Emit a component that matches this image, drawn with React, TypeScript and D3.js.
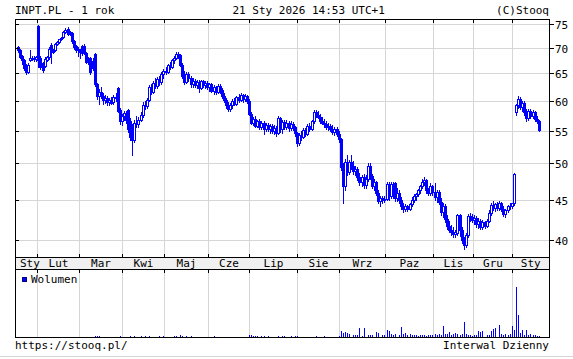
import React from 'react';
import * as d3 from 'd3';

type Candle = [number, number, number, number]; // open, high, low, close

const jan25: Candle[] = [
  [70.2,70.4,69.2,69.5],[69.6,69.8,68.0,68.2],[68.3,68.6,66.8,67.5],[67.6,67.8,65.6,66.0],
  [66.5,66.8,64.9,65.2],[65.3,66.9,65.1,66.6],[67.6,69.5,67.3,68.0],[67.8,68.3,67.5,68.0],
  [68.0,68.4,67.4,67.8],[67.7,68.3,67.3,68.1],
];
const feb25: Candle[] = [
  [74.5,74.7,66.2,67.5],[68.0,68.3,65.8,66.2],[67.0,67.2,65.3,65.6],[66.3,68.1,66.1,67.8],
  [67.6,68.3,67.3,68.1],[68.1,70.1,67.8,69.8],[70.6,70.9,67.0,69.2],[69.2,69.7,68.9,69.4],
  [69.5,70.9,69.3,70.7],[70.7,71.4,70.5,71.2],[71.2,71.9,71.0,71.7],[71.7,72.3,71.5,72.1],
  [72.2,73.4,72.0,73.2],[73.2,74.1,73.0,73.8],[74.0,74.4,72.6,72.8],[73.2,73.5,72.6,72.9],
  [73.0,73.3,71.0,71.3],[71.3,71.6,69.8,70.1],[70.3,70.6,69.1,69.6],[69.8,70.2,68.4,69.5],
];
const mar25: Candle[] = [
  [69.4,69.8,68.0,69.2],[70.3,70.5,68.6,68.9],[70.4,70.7,68.8,69.1],[69.0,69.2,66.9,67.2],
  [67.8,68.2,66.8,67.1],[68.0,68.2,64.9,65.2],[67.4,67.9,65.6,66.0],[68.7,69.0,62.6,63.0],
  [63.0,63.2,60.3,60.8],[60.8,62.0,59.5,61.6],[61.6,62.4,60.5,60.9],[60.9,61.3,59.5,60.2],
  [60.2,61.0,59.6,60.5],[60.5,60.9,59.3,59.8],[59.8,60.5,59.2,60.1],[60.1,60.6,59.4,59.6],
  [59.7,61.0,59.4,60.6],[60.6,61.3,60.0,60.4],[62.2,62.5,58.0,58.3],[58.4,58.7,56.0,56.5],
  [56.5,57.8,55.9,57.4],
];
const apr25: Candle[] = [
  [57.4,58.3,56.8,57.9],[57.9,58.2,56.3,56.8],[58.4,58.6,54.8,55.2],[56.5,57.0,53.5,54.0],
  [55.5,56.0,51.2,53.5],[53.5,56.8,53.2,56.3],[56.3,57.3,55.5,56.0],[56.0,57.2,55.6,56.8],
  [56.8,58.0,56.5,57.6],[57.6,59.8,57.2,59.3],[59.3,60.0,58.5,59.0],[59.0,60.5,58.8,60.2],
  [60.2,62.8,60.0,62.4],[62.4,63.0,61.2,61.6],[61.6,63.5,61.3,63.2],[63.2,64.0,62.3,62.6],
  [62.6,64.3,62.2,63.9],[63.9,64.5,62.8,63.3],[63.3,65.2,63.0,64.9],[64.9,65.8,64.1,65.5],
];
const may25: Candle[] = [
  [65.5,66.2,64.9,65.2],[65.2,66.8,65.0,66.5],[66.5,67.2,65.8,66.1],[66.1,67.8,65.9,67.5],
  [67.5,68.3,67.0,68.0],[68.0,69.2,67.8,68.8],[68.8,69.2,67.9,68.4],[68.5,68.8,66.3,66.6],
  [66.6,67.0,64.0,64.4],[64.4,65.5,63.0,63.4],[63.4,65.2,63.2,64.9],[64.9,65.3,63.6,64.0],
  [64.0,64.5,62.5,62.9],[62.9,64.0,62.5,63.6],[63.6,63.9,62.4,62.8],[62.8,63.8,62.2,63.4],
  [63.4,63.7,61.6,62.2],[62.2,63.8,62.0,63.5],[63.5,63.8,62.4,62.8],[62.8,63.5,62.3,63.2],
  [63.2,63.5,62.0,62.5],
];
const jun25: Candle[] = [
  [62.5,63.2,61.8,62.9],[62.9,63.1,61.5,61.8],[61.8,62.8,61.2,62.4],[62.4,62.7,61.2,61.6],
  [61.6,62.9,61.3,62.6],[62.6,62.9,61.4,61.9],[61.9,62.3,60.5,60.8],[60.8,61.3,59.8,60.1],
  [60.1,60.5,58.8,59.2],[59.2,59.7,58.3,58.6],[58.6,59.6,58.3,59.3],[59.3,60.3,58.8,60.0],
  [60.0,60.5,59.2,59.5],[59.5,60.9,59.3,60.6],[60.6,61.2,59.8,60.2],[60.2,61.3,60.0,61.0],
  [61.0,61.2,59.8,60.3],[60.3,61.1,60.0,60.8],[60.8,61.0,59.6,60.0],[60.0,60.3,57.5,57.8],
];
const jul25: Candle[] = [
  [57.8,58.0,56.0,56.3],[56.3,57.2,55.9,56.9],[56.9,57.3,55.5,55.8],[55.8,56.8,55.5,56.5],
  [56.5,56.9,55.2,55.6],[55.6,56.6,55.3,56.3],[56.3,56.5,54.5,55.2],[55.2,56.3,55.0,55.9],
  [55.9,56.2,54.9,55.3],[55.3,56.0,54.6,55.7],[55.7,56.1,54.6,55.0],[55.0,55.9,54.5,55.4],
  [55.4,55.7,54.2,54.6],[54.6,57.3,54.4,57.0],[57.0,57.2,54.8,55.2],[55.2,56.8,54.6,56.4],
  [56.4,56.8,55.3,55.6],[55.6,56.7,55.2,56.3],[56.3,56.6,55.0,55.4],[55.4,56.5,55.1,56.1],
  [56.1,56.4,55.1,55.5],[55.5,55.8,54.2,54.6],[54.6,54.8,52.6,53.0],
];
const aug25: Candle[] = [
  [53.0,54.6,52.7,54.3],[54.3,54.9,53.5,54.0],[54.0,55.4,53.8,55.1],[55.1,55.4,54.1,54.5],
  [54.5,56.0,54.3,55.7],[55.7,56.3,55.0,55.3],[55.3,56.8,55.1,56.5],[56.5,58.4,56.3,58.1],
  [58.1,58.4,57.2,57.6],[57.6,58.3,57.0,57.2],[57.2,57.8,56.3,56.6],[56.6,57.2,56.0,56.3],
  [56.3,56.9,55.6,56.0],[56.0,56.5,55.2,55.5],[55.5,56.2,55.1,55.8],[55.8,56.1,55.0,55.3],
  [55.3,55.9,54.5,54.8],[54.8,55.5,54.3,55.2],[55.2,55.5,54.2,54.5],[54.5,55.0,53.2,53.6],
];
const sep25: Candle[] = [
  [53.6,53.8,49.0,49.5],[49.5,50.0,44.6,46.8],[46.8,50.6,46.3,50.2],[50.2,51.3,48.3,48.8],
  [48.8,50.5,48.5,50.2],[50.2,51.2,49.2,49.6],[49.6,50.4,48.5,48.9],[48.9,49.6,48.3,49.2],
  [49.2,49.5,47.6,48.0],[48.0,48.6,47.0,47.4],[47.4,48.3,46.8,48.0],[48.0,48.4,46.6,47.0],
  [47.0,48.3,46.6,47.8],[47.8,50.0,47.5,49.6],[49.6,50.0,47.8,48.2],[48.2,48.5,46.5,46.8],
  [46.8,47.8,46.2,47.3],[47.3,47.5,45.6,45.9],[45.9,46.2,44.5,44.8],[44.8,45.5,44.2,45.2],
  [45.2,45.4,44.6,44.9],[44.9,45.4,44.7,45.1],
];
const oct25: Candle[] = [
  [45.1,47.3,44.9,47.1],[47.1,47.3,45.0,45.4],[45.4,47.3,45.2,47.1],[47.1,47.3,45.2,45.5],
  [47.2,47.4,44.8,45.2],[45.2,46.5,44.8,45.9],[45.9,46.2,44.5,44.9],[44.9,45.3,43.8,44.1],
  [44.1,44.6,43.4,43.8],[43.8,44.4,43.5,44.1],[44.1,44.3,43.5,43.8],[43.8,44.6,43.6,44.4],
  [44.4,45.3,44.2,45.0],[45.0,45.7,44.7,45.4],[45.4,45.9,45.0,45.7],[45.7,46.4,45.4,46.2],
  [46.2,47.0,45.9,46.8],[46.8,47.8,46.5,47.3],[47.3,48.0,47.0,47.6],[47.6,47.8,45.9,46.3],
  [46.3,46.6,45.6,45.9],[45.9,47.2,45.6,46.8],[46.8,47.0,45.6,46.0],
];
const nov25: Candle[] = [
  [46.0,47.2,44.9,45.3],[45.3,46.3,44.7,46.0],[46.0,46.2,44.4,44.7],[44.7,45.2,43.0,43.4],
  [43.4,44.6,42.8,44.2],[44.2,44.4,42.2,42.5],[42.5,43.0,41.3,41.7],[41.7,42.3,40.9,41.2],
  [41.2,41.8,40.6,41.0],[41.0,41.5,40.4,40.7],[40.7,41.2,40.3,40.9],[40.8,43.2,40.6,43.0],
  [43.0,43.2,40.5,41.2],[41.2,41.5,39.6,40.0],[40.0,40.3,39.0,39.4],[39.4,40.8,39.2,40.6],
  [40.6,43.2,40.4,42.9],[42.9,43.3,42.3,42.8],[42.8,43.1,42.1,42.4],
];
const dec25: Candle[] = [
  [42.4,43.0,41.9,42.7],[42.7,42.9,41.6,41.9],[41.9,42.6,41.4,42.3],[42.3,42.5,41.3,41.6],
  [41.6,42.4,41.3,42.1],[42.1,42.3,41.4,41.7],[41.7,42.5,41.5,42.3],[42.3,43.6,42.1,43.3],
  [43.3,44.6,43.0,44.3],[44.3,44.8,43.6,43.9],[43.9,44.6,43.5,44.4],[44.4,44.7,43.6,43.9],
  [43.9,44.8,43.7,44.5],[44.5,44.7,43.5,43.8],[43.8,44.1,42.9,43.2],[43.2,43.8,42.8,43.6],
  [43.6,44.3,43.4,44.1],[44.1,44.5,43.8,44.2],[44.2,44.6,43.9,44.5],
];
const jan26: Candle[] = [
  [44.5,48.6,44.3,48.5],[58.0,59.5,57.6,59.2],[59.2,60.8,58.8,60.3],[60.3,60.6,58.5,58.9],
  [58.9,60.0,58.2,59.6],[59.6,59.9,57.6,58.0],[58.0,58.6,56.5,57.0],[57.0,58.5,56.8,58.2],
  [58.2,58.5,57.0,57.3],[57.3,58.4,57.0,58.0],[58.0,58.2,56.6,56.9],[56.9,57.4,56.3,56.6],
  [56.6,56.8,54.9,55.1],
];

// volume (thousands of shares), one value per session
const volJan25 = [0,0,0,0,0,0,0,0,0,0];
const volFeb25 = [0,0,0,0,0,0,0,0,0,0,0,0,0,0,0,0,0,0,0,0];
const volMar25 = [0,0,0,0,0,0,0,4,3,2,0,0,0,0,0,0,0,0,0,3,0];
const volApr25 = [0,0,0,3,0,3,0,0,3,0,3,0,4,0,0,0,0,3,0,3];
const volMay25 = [0,0,0,0,4,3,0,5,3,0,3,0,3,0,0,0,0,0,0,0,0];
const volJun25 = [0,0,3,0,0,0,0,0,0,0,0,0,0,0,0,0,0,0,0,6];
const volJul25 = [5,3,2,3,0,2,3,0,2,0,0,0,0,2,0,2,2,0,0,2,0,2,2];
const volAug25 = [0,0,0,0,0,0,0,0,2,0,0,0,2,0,0,0,0,0,0,2];
const volSep25 = [18,12,15,12,10,0,6,5,6,27,4,27,0,6,5,6,0,15,12,0,6,6];
const volOct25 = [21,18,9,6,9,0,6,30,9,12,6,9,6,5,6,4,6,5,6,4,6,5,6];
const volNov25 = [9,6,9,6,33,9,9,15,6,9,12,9,6,9,45,9,6,6,4];
const volDec25 = [6,6,18,15,18,0,6,6,18,24,27,0,36,9,6,9,6,9,33];
const volJan26 = [21,147,66,12,21,6,21,6,9,6,6,4,3];

const MONTH_LABELS = ['Sty','Lut','Mar','Kwi','Maj','Cze','Lip','Sie','Wrz','Paz','Lis','Gru'];
const PRICE_TICKS = [40, 45, 50, 55, 60, 65, 70, 75];
const START_DATE = '2025-01-20';
const END_DATE = '2026-01-21';
const HOLIDAYS = ['2025-04-18','2025-04-21','2025-05-01','2025-06-19','2025-08-15','2025-11-11',
  '2025-12-24','2025-12-25','2025-12-26','2025-12-31','2026-01-01','2026-01-06'];

const TITLE = 'INPT.PL - 1 rok';
const STAMP = '21 Sty 2026 14:53 UTC+1';
const COPY = '(C)Stooq';
const SOURCE = 'https://stooq.pl/';
const INTERVAL = 'Interwal Dzienny';
const VOL_LABEL = 'Wolumen';

const candles: Candle[] = [...jan25, ...feb25, ...mar25, ...apr25, ...may25, ...jun25,
  ...jul25, ...aug25, ...sep25, ...oct25, ...nov25, ...dec25, ...jan26];
const volumes: number[] = [...volJan25, ...volFeb25, ...volMar25, ...volApr25, ...volMay25,
  ...volJun25, ...volJul25, ...volAug25, ...volSep25, ...volOct25, ...volNov25, ...volDec25, ...volJan26];

function tradingDays(start: string, end: string, holidays: string[]): Date[] {
  const out: Date[] = [];
  const hs = new Set(holidays);
  const d = new Date(start + 'T00:00:00Z');
  const e = new Date(end + 'T00:00:00Z');
  while (d <= e) {
    const wd = d.getUTCDay();
    const key = d.toISOString().slice(0, 10);
    if (wd !== 0 && wd !== 6 && !hs.has(key)) out.push(new Date(d));
    d.setUTCDate(d.getUTCDate() + 1);
  }
  return out;
}

const W = 573, H = 359;
const L = 15, R = 549, T = 19, PB = 257, BB = 269, VB = 337;
const FONT = '"DejaVu Sans Mono", monospace';
const BLUE = '#0000ff';
const GRID = '#d6d6d6';

export default function App() {
  const dates = tradingDays(START_DATE, END_DATE, HOLIDAYS);
  const n = candles.length;
  const x = d3.scaleLinear().domain([-1.2, n + 3.9]).range([L, R]);
  const y = d3.scaleLog().domain([40, 75]).range([240, 24]);
  const yv = d3.scaleLinear().domain([0, 200]).range([VB, BB]);

  // month boundaries
  const bounds: { i: number; px: number }[] = [];
  for (let i = 1; i < Math.min(n, dates.length); i++) {
    if (dates[i].getUTCMonth() !== dates[i - 1].getUTCMonth()) {
      bounds.push({ i, px: Math.floor(x(i - 0.5)) + 0.5 });
    }
  }
  const segs: { label: string; cx: number }[] = [];
  const edges = [L, ...bounds.map(b => b.px), R];
  const segStartIdx = [0, ...bounds.map(b => b.i)];
  for (let k = 0; k < edges.length - 1; k++) {
    const m = dates[segStartIdx[k]] ? dates[segStartIdx[k]].getUTCMonth() : 0;
    const mid = (edges[k] + edges[k + 1]) / 2;
    const lw = 3 * 6.6;
    segs.push({ label: MONTH_LABELS[m], cx: Math.max(mid, L + 5 + lw / 2) });
  }

  const py = (v: number) => Math.round(y(v));

  return (
    <svg width={W} height={H} style={{ position: 'absolute', left: 0, top: 0, background: '#fff' }}
      fontFamily={FONT} fontSize={11}>
      <rect x={0} y={0} width={W} height={H} fill="#fff" />
      {/* header */}
      <text x={L} y={14}>{TITLE}</text>
      <text x={232.5} y={14}>{STAMP}</text>
      <text x={R} y={14} textAnchor="end">{COPY}</text>

      {/* price grid */}
      {PRICE_TICKS.map(t => (
        <line key={'h' + t} x1={L} x2={R} y1={py(t) + 0.5} y2={py(t) + 0.5} stroke={GRID} />
      ))}
      {bounds.map(b => (
        <g key={'v' + b.i}>
          <line x1={b.px} x2={b.px} y1={T} y2={PB} stroke={GRID} />
          <line x1={b.px} x2={b.px} y1={BB} y2={VB} stroke={GRID} />
        </g>
      ))}

      {/* band */}
      <rect x={L} y={PB} width={R - L} height={BB - PB} fill="#f0f0f0" />
      {segs.map((s, k) => (
        <text key={'m' + k} x={s.cx} y={267} textAnchor="middle">{s.label}</text>
      ))}

      {/* candles */}
      {candles.map((c, i) => {
        const [o, h, l, cl] = c;
        const cx = Math.round(x(i));
        const top = py(Math.max(o, cl));
        const bot = py(Math.min(o, cl));
        const up = cl >= o;
        return (
          <g key={'c' + i}>
            <line x1={cx + 0.5} x2={cx + 0.5} y1={py(h)} y2={py(l) + 1} stroke={BLUE} />
            <rect x={cx - 0.5} y={top + 0.5} width={2} height={Math.max(0, bot - top)}
              fill={up ? '#fff' : BLUE} stroke={BLUE} />
          </g>
        );
      })}

      {/* volume */}
      {volumes.map((v, i) => {
        if (!v) return null;
        const cx = Math.round(x(i));
        const top = Math.min(VB - 1, Math.round(yv(v)));
        return <rect key={'vol' + i} x={cx} y={top} width={1} height={VB - top} fill={BLUE} />;
      })}
      <rect x={22.5} y={277.5} width={4} height={4} fill={BLUE} stroke="#000080" />
      <text x={31} y={283}>{VOL_LABEL}</text>

      {/* frame and ticks */}
      <rect x={L + 0.5} y={T + 0.5} width={R - L - 1 + 1} height={VB - T} fill="none" stroke="#000" />
      <line x1={L} x2={R + 1} y1={PB + 0.5} y2={PB + 0.5} stroke="#000" />
      <line x1={L} x2={R + 1} y1={BB + 0.5} y2={BB + 0.5} stroke="#000" />
      {bounds.map(b => (
        <g key={'t' + b.i} stroke="#000">
          <line x1={b.px} x2={b.px} y1={T} y2={T + 4} />
          <line x1={b.px} x2={b.px} y1={PB - 3} y2={PB} />
          <line x1={b.px} x2={b.px} y1={BB} y2={BB + 4} />
        </g>
      ))}
      {PRICE_TICKS.map(t => (
        <g key={'yt' + t}>
          <line x1={L} x2={L + 4} y1={py(t) + 0.5} y2={py(t) + 0.5} stroke="#000" />
          <line x1={R} x2={R + 5} y1={py(t) + 0.5} y2={py(t) + 0.5} stroke="#000" />
          <text x={R + 6} y={py(t) + 4.5}>{t}</text>
        </g>
      ))}

      {/* footer */}
      <text x={L} y={349}>{SOURCE}</text>
      <text x={R} y={349} textAnchor="end">{INTERVAL}</text>
      <line x1={0} x2={W} y1={356.5} y2={356.5} stroke="#d4d4d4" />
    </svg>
  );
}
